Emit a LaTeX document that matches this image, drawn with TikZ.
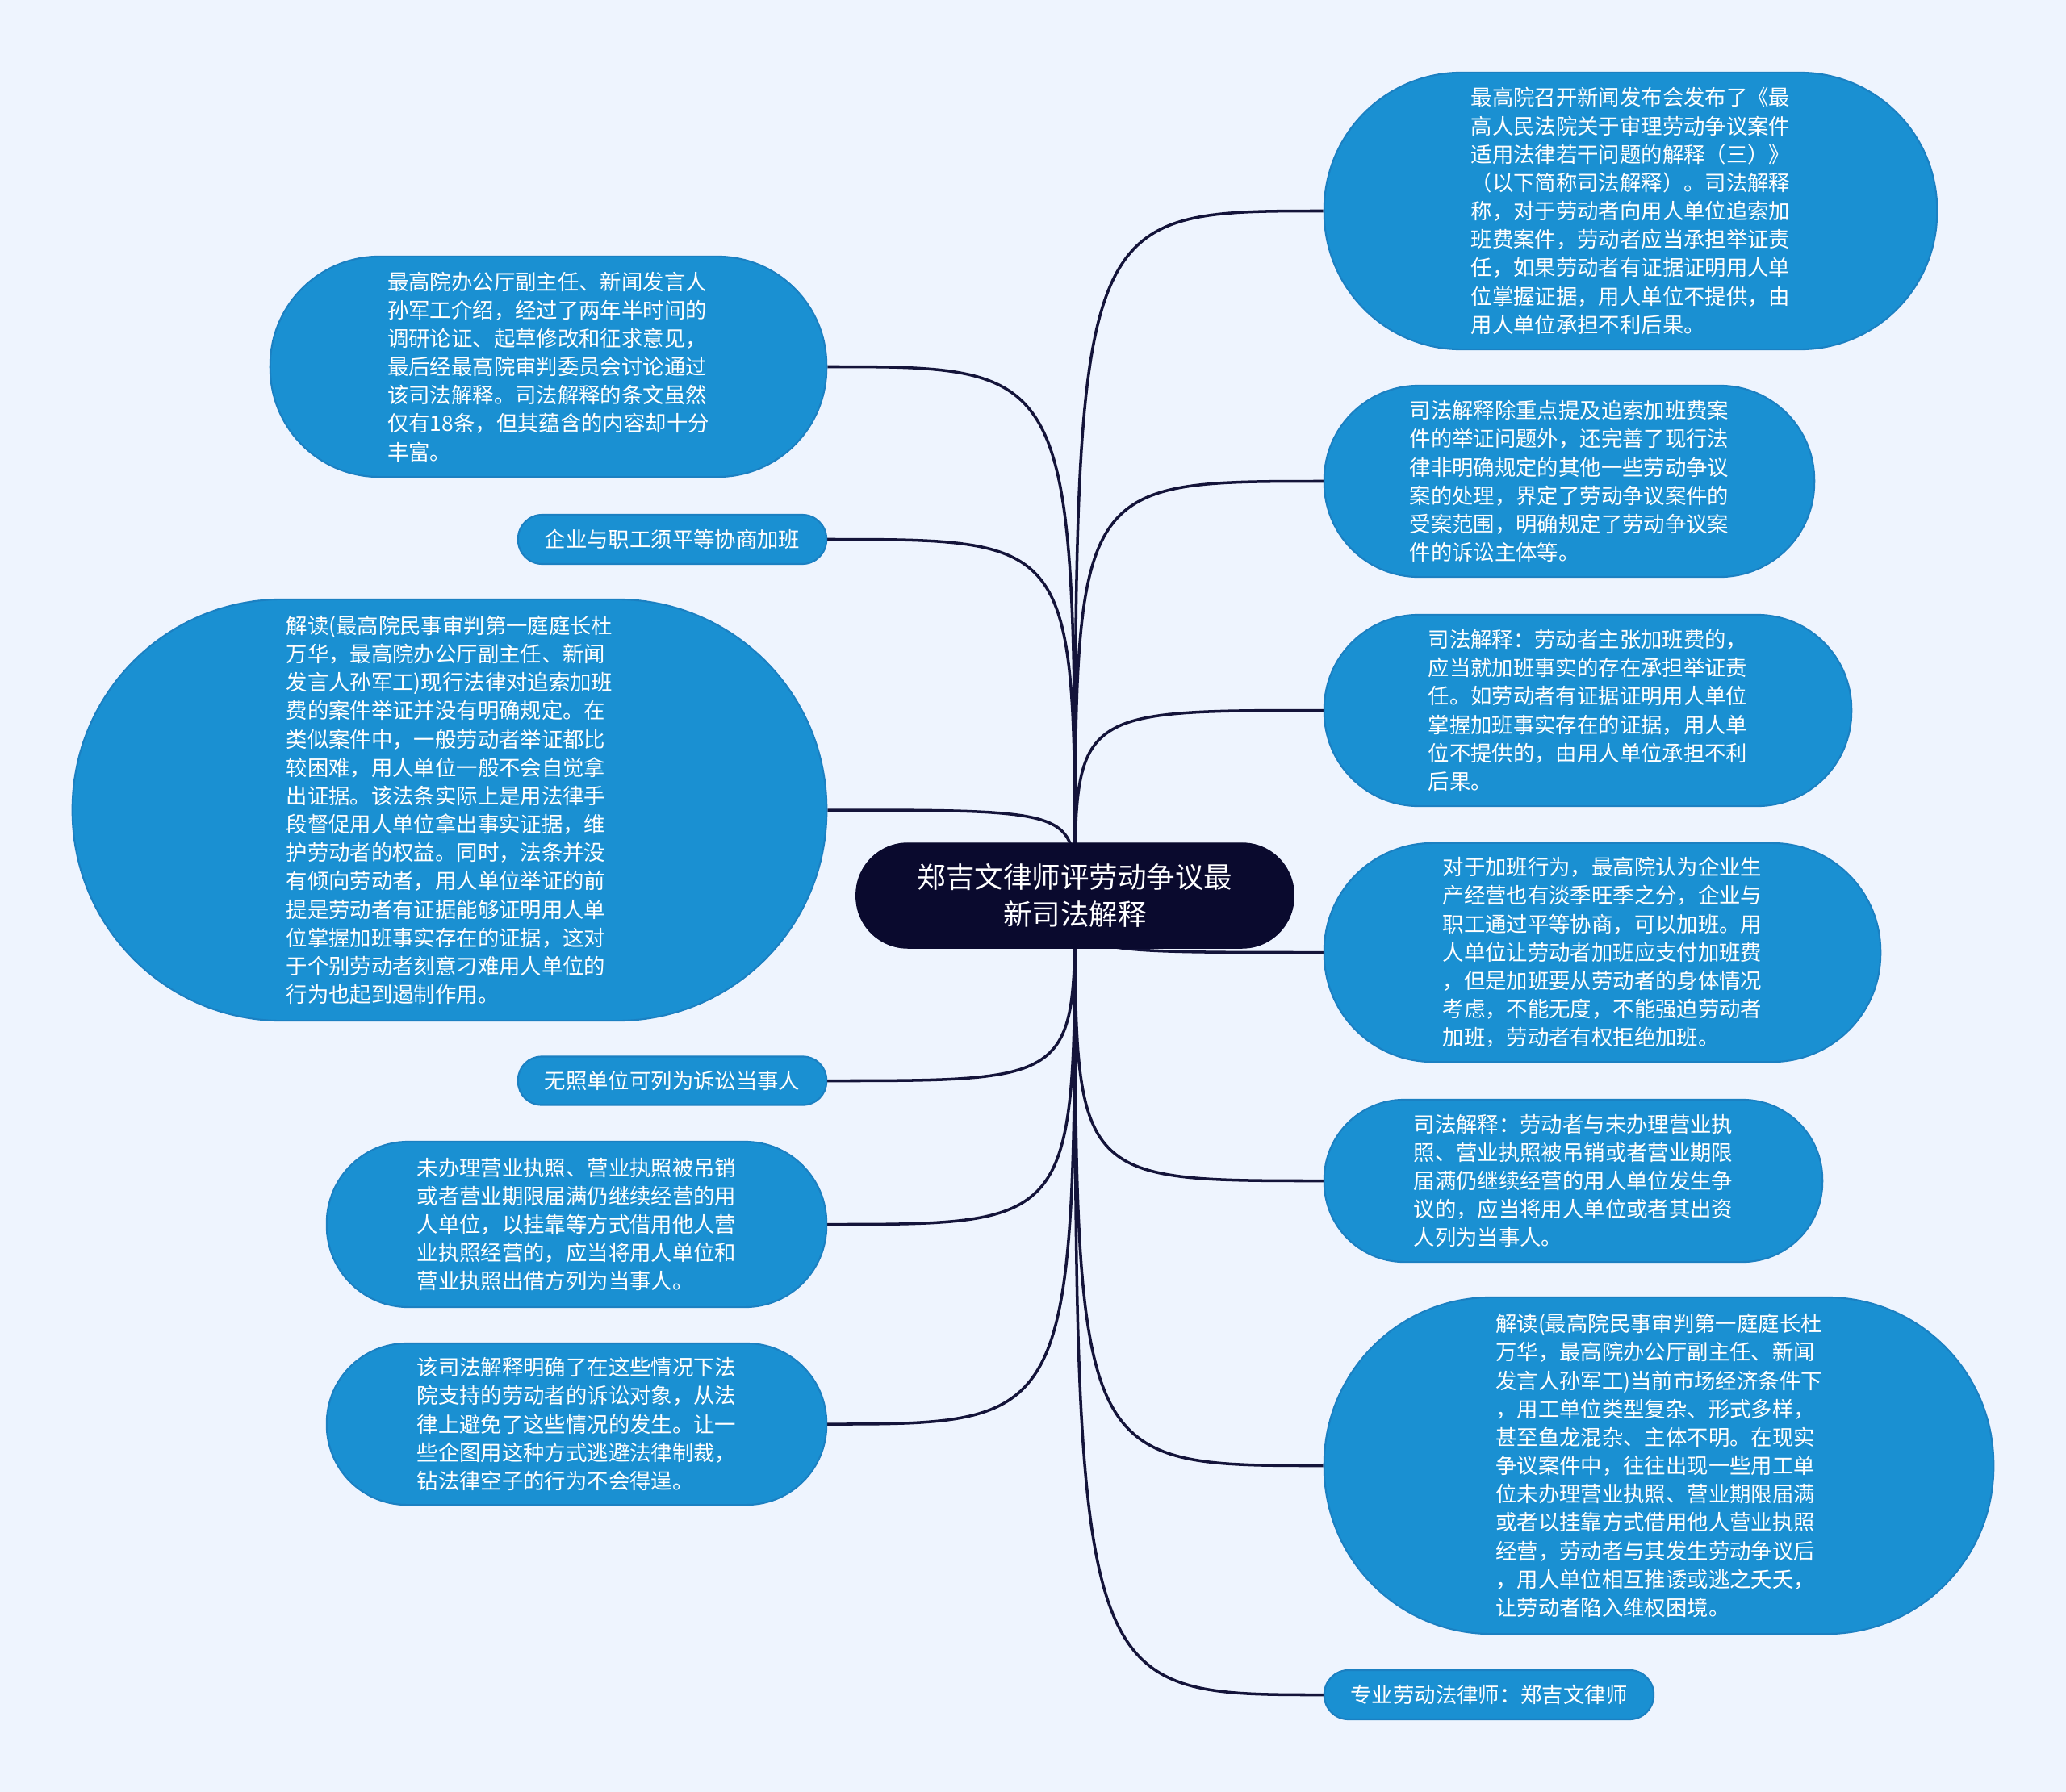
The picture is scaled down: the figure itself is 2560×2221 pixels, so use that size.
\documentclass[tikz,border=0pt]{standalone}
\usepackage{fontspec}
\newfontfamily\cjk{Noto Sans CJK SC}
\usetikzlibrary{backgrounds}
\definecolor{bgc}{HTML}{EEF4FE}
\definecolor{leafc}{HTML}{1A90D2}
\definecolor{leafedge}{HTML}{1B80C2}
\definecolor{rootc}{HTML}{0A0A2E}
\definecolor{linkc}{HTML}{14143A}
\tikzset{
  leaf/.style={fill=leafc, draw=leafedge, line width=0.6pt, text=white, align=left,
    inner sep=0pt, font=\cjk\fontsize{7.5}{10}\selectfont},
  rootbox/.style={fill=rootc, draw=rootc, text=white, align=center, inner sep=0pt,
    font=\cjk\fontsize{10.1}{13}\selectfont},
  link/.style={draw=linkc, line width=1pt},
}
\begin{document}
\begin{tikzpicture}[x=0.01cm, y=-0.01cm]
\useasboundingbox (0,0) rectangle (2560,2221);

\node[rootbox, minimum width=5.42cm, minimum height=1.30cm, rounded corners=0.64cm] (root) at (1332,1110) {郑吉文律师评劳动争议最\\新司法解释};

% right side
\node[leaf, minimum width=7.59cm, minimum height=3.43cm, rounded corners=1.7cm] (r1) at (2020.5,261.5) {最高院召开新闻发布会发布了《最\\高人民法院关于审理劳动争议案件\\适用法律若干问题的解释（三）》\\（以下简称司法解释）。司法解释\\称，对于劳动者向用人单位追索加\\班费案件，劳动者应当承担举证责\\任，如果劳动者有证据证明用人单\\位掌握证据，用人单位不提供，由\\用人单位承担不利后果。};
\node[leaf, minimum width=6.07cm, minimum height=2.37cm, rounded corners=1.17cm] (r2) at (1944.5,596.5) {司法解释除重点提及追索加班费案\\件的举证问题外，还完善了现行法\\律非明确规定的其他一些劳动争议\\案的处理，界定了劳动争议案件的\\受案范围，明确规定了劳动争议案\\件的诉讼主体等。};
\node[leaf, minimum width=6.53cm, minimum height=2.37cm, rounded corners=1.17cm] (r3) at (1967.5,880.5) {司法解释：劳动者主张加班费的，\\应当就加班事实的存在承担举证责\\任。如劳动者有证据证明用人单位\\掌握加班事实存在的证据，用人单\\位不提供的，由用人单位承担不利\\后果。};
\node[leaf, minimum width=6.89cm, minimum height=2.71cm, rounded corners=1.34cm] (r4) at (1985.5,1180.5) {对于加班行为，最高院认为企业生\\产经营也有淡季旺季之分，企业与\\职工通过平等协商，可以加班。用\\人单位让劳动者加班应支付加班费\\，但是加班要从劳动者的身体情况\\考虑，不能无度，不能强迫劳动者\\加班，劳动者有权拒绝加班。};
\node[leaf, minimum width=6.17cm, minimum height=2.01cm, rounded corners=0.99cm] (r5) at (1949.5,1463.5) {司法解释：劳动者与未办理营业执\\照、营业执照被吊销或者营业期限\\届满仍继续经营的用人单位发生争\\议的，应当将用人单位或者其出资\\人列为当事人。};
\node[leaf, minimum width=8.29cm, minimum height=4.17cm, rounded corners=2.07cm] (r6) at (2055.5,1816.5) {解读(最高院民事审判第一庭庭长杜\\万华，最高院办公厅副主任、新闻\\发言人孙军工)当前市场经济条件下\\，用工单位类型复杂、形式多样，\\甚至鱼龙混杂、主体不明。在现实\\争议案件中，往往出现一些用工单\\位未办理营业执照、营业期限届满\\或者以挂靠方式借用他人营业执照\\经营，劳动者与其发生劳动争议后\\，用人单位相互推诿或逃之夭夭，\\让劳动者陷入维权困境。};
\node[leaf, minimum width=4.08cm, minimum height=0.61cm, rounded corners=0.3cm] (r7) at (1845,2100.5) {专业劳动法律师：郑吉文律师};

% left side
\node[leaf, minimum width=6.89cm, minimum height=2.73cm, rounded corners=1.35cm] (l1) at (679.5,454.5) {最高院办公厅副主任、新闻发言人\\孙军工介绍，经过了两年半时间的\\调研论证、起草修改和征求意见，\\最后经最高院审判委员会讨论通过\\该司法解释。司法解释的条文虽然\\仅有18条，但其蕴含的内容却十分\\丰富。};
\node[leaf, minimum width=3.82cm, minimum height=0.61cm, rounded corners=0.3cm] (l2) at (833,668.5) {企业与职工须平等协商加班};
\node[leaf, minimum width=9.34cm, minimum height=5.22cm, rounded corners=2.6cm] (l3) at (557,1004) {解读(最高院民事审判第一庭庭长杜\\万华，最高院办公厅副主任、新闻\\发言人孙军工)现行法律对追索加班\\费的案件举证并没有明确规定。在\\类似案件中，一般劳动者举证都比\\较困难，用人单位一般不会自觉拿\\出证据。该法条实际上是用法律手\\段督促用人单位拿出事实证据，维\\护劳动者的权益。同时，法条并没\\有倾向劳动者，用人单位举证的前\\提是劳动者有证据能够证明用人单\\位掌握加班事实存在的证据，这对\\于个别劳动者刻意刁难用人单位的\\行为也起到遏制作用。};
\node[leaf, minimum width=3.82cm, minimum height=0.60cm, rounded corners=0.29cm] (l4) at (833,1339.5) {无照单位可列为诉讼当事人};
\node[leaf, minimum width=6.19cm, minimum height=2.05cm, rounded corners=1.01cm] (l5) at (714.5,1517.5) {未办理营业执照、营业执照被吊销\\或者营业期限届满仍继续经营的用\\人单位，以挂靠等方式借用他人营\\业执照经营的，应当将用人单位和\\营业执照出借方列为当事人。};
\node[leaf, minimum width=6.19cm, minimum height=2.00cm, rounded corners=0.99cm] (l6) at (714.5,1765) {该司法解释明确了在这些情况下法\\院支持的劳动者的诉讼对象，从法\\律上避免了这些情况的发生。让一\\些企图用这种方式逃避法律制裁，\\钻法律空子的行为不会得逞。};

\begin{scope}[on background layer]
  \fill[bgc] (0,0) rectangle (2560,2221);
  \foreach \n in {r1,r2,r3,r4,r5,r6,r7}{
    \draw[link] (root.center) .. controls (root.center |- \n.west) .. (\n.west);
  }
  \foreach \n in {l1,l2,l3,l4,l5,l6}{
    \draw[link] (root.center) .. controls (root.center |- \n.east) .. (\n.east);
  }
\end{scope}
\end{tikzpicture}
\end{document}
